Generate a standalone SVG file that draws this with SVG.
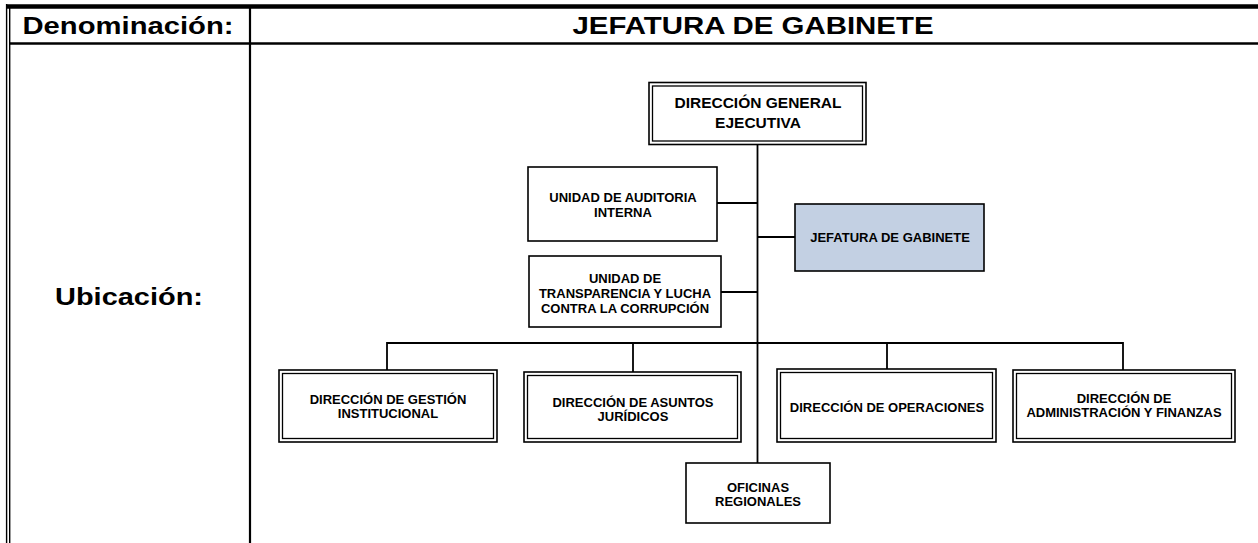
<svg xmlns="http://www.w3.org/2000/svg" width="1258" height="543" viewBox="0 0 1258 543">
<style>
.hdr{font-family:"Liberation Sans",Arial,sans-serif;font-weight:bold;font-size:24px;fill:#000;text-anchor:middle}
.lbl{font-family:"Liberation Sans",Arial,sans-serif;font-weight:bold;font-size:13px;fill:#000;text-anchor:middle}
.big{font-size:15.5px}
.box{fill:#fff;stroke:#000;stroke-width:1.6}
.inner{fill:none;stroke:#000;stroke-width:1.3}
.conn{fill:none;stroke:#000;stroke-width:1.8}
.tbl{stroke:#000;fill:none}
</style>
<rect x="0" y="0" width="1258" height="543" fill="#fff"/>
<g id="table">
<line class="tbl" x1="6" y1="6.5" x2="1258" y2="6.5" stroke-width="4.5"/>
<line class="tbl" x1="6.6" y1="4" x2="6.6" y2="543" stroke-width="1.4"/>
<line class="tbl" x1="9.7" y1="8" x2="9.7" y2="543" stroke-width="1.4"/>
<line class="tbl" x1="10" y1="43.5" x2="1258" y2="43.5" stroke-width="2.4"/>
<line class="tbl" x1="250" y1="8" x2="250" y2="543" stroke-width="2.2"/>
<text class="hdr" x="128" y="34" textLength="211" lengthAdjust="spacingAndGlyphs">Denominación:</text>
<text class="hdr" x="753" y="34" textLength="361" lengthAdjust="spacingAndGlyphs">JEFATURA DE GABINETE</text>
<text class="hdr" x="129" y="305" textLength="148" lengthAdjust="spacingAndGlyphs">Ubicación:</text>
</g>
<g id="connectors">
<line class="conn" x1="757.5" y1="144" x2="757.5" y2="463" stroke-width="2.4"/>
<line class="conn" x1="717" y1="203" x2="757.5" y2="203"/>
<line class="conn" x1="757.5" y1="237" x2="795" y2="237"/>
<line class="conn" x1="721" y1="292" x2="757.5" y2="292"/>
<polyline class="conn" points="387,370 387,343 1123,343 1123,370"/>
<line class="conn" x1="633" y1="343" x2="633" y2="372"/>
<line class="conn" x1="887" y1="343" x2="887" y2="369"/>
</g>
<g id="dge">
<rect class="box" x="649" y="82.5" width="217" height="62"/>
<rect class="inner" x="652.5" y="86" width="210" height="55"/>
<text class="lbl big" x="758" y="108">DIRECCIÓN GENERAL</text>
<text class="lbl big" x="758" y="128">EJECUTIVA</text>
</g>
<g id="auditoria">
<rect class="box" x="528" y="167" width="189" height="74"/>
<text class="lbl" x="623" y="202">UNIDAD DE AUDITORIA</text>
<text class="lbl" x="623" y="217">INTERNA</text>
</g>
<g id="jefatura">
<rect class="box" x="795" y="204" width="189" height="67" style="fill:#c3d0e3"/>
<text class="lbl" x="890" y="242">JEFATURA DE GABINETE</text>
</g>
<g id="transparencia">
<rect class="box" x="529" y="256" width="192" height="71"/>
<text class="lbl" x="625" y="283">UNIDAD DE</text>
<text class="lbl" x="625" y="298">TRANSPARENCIA Y LUCHA</text>
<text class="lbl" x="625" y="313">CONTRA LA CORRUPCIÓN</text>
</g>
<g id="gestion">
<rect class="box" x="279" y="370" width="218" height="72"/>
<rect class="inner" x="282.5" y="373.5" width="211" height="65"/>
<text class="lbl" x="388" y="404">DIRECCIÓN DE GESTIÓN</text>
<text class="lbl" x="388" y="418">INSTITUCIONAL</text>
</g>
<g id="asuntos">
<rect class="box" x="524" y="372" width="217" height="70"/>
<rect class="inner" x="527.5" y="375.5" width="210" height="63"/>
<text class="lbl" x="633" y="406.5">DIRECCIÓN DE ASUNTOS</text>
<text class="lbl" x="633" y="421">JURÍDICOS</text>
</g>
<g id="operaciones">
<rect class="box" x="777" y="369" width="219" height="73"/>
<rect class="inner" x="780.5" y="372.5" width="212" height="66"/>
<text class="lbl" x="887" y="411.5">DIRECCIÓN DE OPERACIONES</text>
</g>
<g id="administracion">
<rect class="box" x="1013" y="370" width="222" height="72"/>
<rect class="inner" x="1016.5" y="373.5" width="215" height="65"/>
<text class="lbl" x="1124" y="403">DIRECCIÓN DE</text>
<text class="lbl" x="1124" y="417">ADMINISTRACIÓN Y FINANZAS</text>
</g>
<g id="oficinas">
<rect class="box" x="686" y="463" width="144" height="60"/>
<text class="lbl" x="758" y="492">OFICINAS</text>
<text class="lbl" x="758" y="506">REGIONALES</text>
</g>
</svg>
